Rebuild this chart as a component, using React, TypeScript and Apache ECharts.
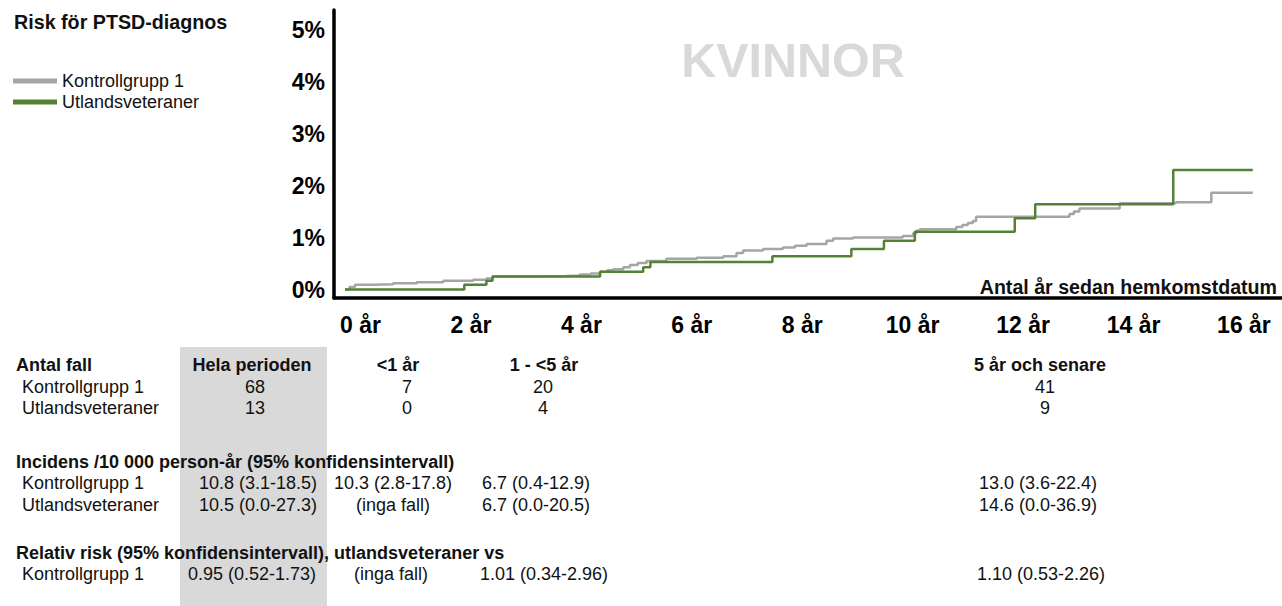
import React, { useEffect, useRef } from "react";
import * as echarts from "echarts";

// ---- data ----
const yearTicks = [0, 2, 4, 6, 8, 10, 12, 14, 16];
const riskTicks = [0, 1, 2, 3, 4, 5];
const seriesNames = ["Kontrollgrupp 1", "Utlandsveteraner"];

// Kontrollgrupp 1: cumulative risk (%) by years since homecoming (step points)
const ctrlX = [0, 0.08, 0.18, 0.5, 0.87, 1.3, 1.78, 2.32, 2.56, 2.68, 3.4, 4.0, 4.25, 4.45, 4.62, 4.75, 4.86, 5.04, 5.16, 5.3, 5.46, 5.82, 6.37, 6.85, 7.09, 7.21, 7.57, 7.93, 8.15, 8.36, 8.72, 8.84, 9.2, 10.1, 10.29, 10.35, 10.41, 11.07, 11.18, 11.28, 11.37, 11.43, 13.12, 13.2, 13.3, 14.03, 15.05, 15.69, 16.44];
const ctrlY = [0, 0.05, 0.09, 0.1, 0.12, 0.14, 0.17, 0.19, 0.21, 0.25, 0.26, 0.27, 0.29, 0.31, 0.34, 0.37, 0.39, 0.43, 0.47, 0.51, 0.55, 0.59, 0.61, 0.64, 0.7, 0.75, 0.78, 0.81, 0.84, 0.875, 0.94, 0.98, 1.0, 1.03, 1.08, 1.13, 1.16, 1.2, 1.24, 1.28, 1.32, 1.4, 1.45, 1.5, 1.56, 1.66, 1.68, 1.86, 1.86];

// Utlandsveteraner
const vetX = [0, 2.16, 2.56, 2.67, 4.62, 5.4, 5.53, 7.74, 9.17, 9.76, 10.32, 12.13, 12.5, 15.0, 16.44];
const vetY = [0, 0.09, 0.17, 0.25, 0.34, 0.43, 0.53, 0.64, 0.78, 0.94, 1.11, 1.37, 1.64, 2.3, 2.3];

// table
const periodHeaders = ["Hela perioden", "<1 år", "1 - <5 år", "5 år och senare"];
const sectionTitles = [
  "Antal fall",
  "Incidens /10 000 person-år (95% konfidensintervall)",
  "Relativ risk (95% konfidensintervall), utlandsveteraner vs",
];
const antalKontroll = ["68", "7", "20", "41"];
const antalVeteraner = ["13", "0", "4", "9"];
const incidensKontroll = ["10.8 (3.1-18.5)", "10.3 (2.8-17.8)", "6.7 (0.4-12.9)", "13.0 (3.6-22.4)"];
const incidensVeteraner = ["10.5 (0.0-27.3)", "(inga fall)", "6.7 (0.0-20.5)", "14.6 (0.0-36.9)"];
const rrKontroll = ["0.95 (0.52-1.73)", "(inga fall)", "1.01 (0.34-2.96)", "1.10 (0.53-2.26)"];

// ---- layout ----
const FONT = '"Liberation Sans", Arial, sans-serif';
const GRAY = "#a5a5a5";
const GREEN = "#548235";
const colHead = [252, 398, 544, 1040];
const colAntal = [255, 407, 543, 1045];
const colInc = [258, 393, 536, 1038];
const colRR = [252, 391, 544, 1041];

function txt(text: string, x: number, y: number, opts: any = {}) {
  return {
    type: "text",
    x,
    y,
    z: 10,
    style: {
      text,
      font: `${opts.bold ? "bold " : ""}${opts.size || 18}px ${FONT}`,
      fill: opts.fill || "#111",
      textAlign: opts.align || "left",
      textVerticalAlign: "middle",
    },
  };
}

function rowCells(values: string[], cols: number[], y: number) {
  return values.map((v, i) => txt(v, cols[i], y, { align: "center" }));
}

export default function App() {
  const ref = useRef<HTMLDivElement>(null);
  useEffect(() => {
    if (!ref.current) return;
    const chart = echarts.init(ref.current, undefined, { renderer: "svg" });
    const graphics: any[] = [
      { type: "rect", z: 0, shape: { x: 180, y: 347, width: 147, height: 259 }, style: { fill: "#d9d9d9" } },
      txt("Risk för PTSD-diagnos", 14, 22, { bold: true, size: 19.7 }),
      txt("KVINNOR", 793, 60, { bold: true, size: 48.5, fill: "#d9d9d9", align: "center" }),
      txt("Antal år sedan hemkomstdatum", 1277, 287, { bold: true, size: 19.6, align: "right" }),
      txt(sectionTitles[0], 16, 365, { bold: true }),
      ...periodHeaders.map((h, i) => txt(h, colHead[i], 365, { bold: true, align: "center" })),
      txt(seriesNames[0], 22, 387),
      ...rowCells(antalKontroll, colAntal, 387),
      txt(seriesNames[1], 22, 408),
      ...rowCells(antalVeteraner, colAntal, 408),
      txt(sectionTitles[1], 16, 462, { bold: true }),
      txt(seriesNames[0], 22, 483),
      ...rowCells(incidensKontroll, colInc, 483),
      txt(seriesNames[1], 22, 505),
      ...rowCells(incidensVeteraner, colInc, 505),
      txt(sectionTitles[2], 16, 553, { bold: true }),
      txt(seriesNames[0], 22, 574),
      ...rowCells(rrKontroll, colRR, 574),
    ];
    chart.setOption({
      animation: false,
      backgroundColor: "#fff",
      textStyle: { fontFamily: FONT },
      grid: { left: 334, right: 0, top: 10, bottom: 308, outerBoundsMode: "none" },
      legend: {
        data: seriesNames,
        orient: "vertical",
        left: 13,
        top: 72,
        padding: 0,
        itemWidth: 44,
        itemHeight: 5,
        itemGap: 3,
        icon: "rect",
        textStyle: { fontSize: 18, color: "#111", fontFamily: FONT },
      },
      xAxis: {
        type: "value",
        min: -0.2,
        max: 16.97,
        axisLine: { show: true, onZero: false, lineStyle: { color: "#000", width: 3.5 } },
        axisTick: { show: false },
        splitLine: { show: false },
        axisLabel: {
          customValues: yearTicks,
          formatter: (v: number) => `${v} år`,
          fontSize: 23,
          fontWeight: "bold",
          color: "#000",
          fontFamily: FONT,
          margin: 15,
          padding: [0, 0, 0, 31],
        },
      },
      yAxis: {
        type: "value",
        min: -0.163,
        max: 5.375,
        axisLine: { show: true, onZero: false, lineStyle: { color: "#000", width: 3.5 } },
        axisTick: { show: false },
        splitLine: { show: false },
        axisLabel: {
          customValues: riskTicks,
          formatter: (v: number) => `${v}%`,
          fontSize: 23,
          fontWeight: "bold",
          color: "#000",
          fontFamily: FONT,
          margin: 9,
        },
      },
      series: [
        {
          name: seriesNames[0],
          type: "line",
          step: "end",
          showSymbol: false,
          symbol: "none",
          color: GRAY,
          lineStyle: { color: GRAY, width: 2.5 },
          data: ctrlX.map((x, i) => [x, ctrlY[i]]),
        },
        {
          name: seriesNames[1],
          type: "line",
          step: "end",
          showSymbol: false,
          symbol: "none",
          color: GREEN,
          lineStyle: { color: GREEN, width: 2.5 },
          data: vetX.map((x, i) => [x, vetY[i]]),
        },
      ],
      graphic: graphics,
    });
    return () => chart.dispose();
  }, []);
  return <div ref={ref} style={{ position: "absolute", left: 0, top: 0, width: 1282, height: 606 }} />;
}
